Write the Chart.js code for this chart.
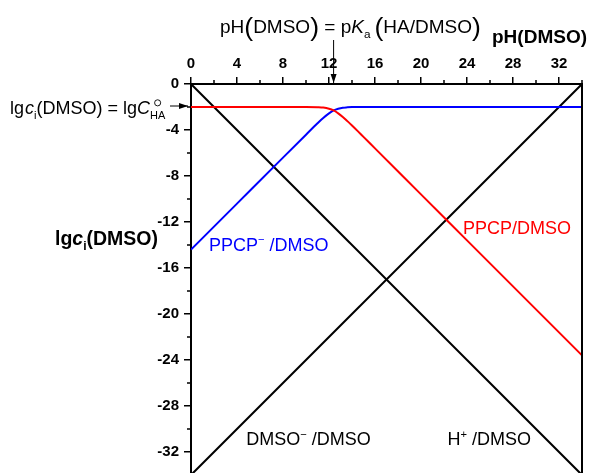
<!DOCTYPE html>
<html>
<head>
<meta charset="utf-8">
<script src="https://cdn.jsdelivr.net/npm/chart.js@4.4.0/dist/chart.umd.min.js"></script>
<style>
html, body { margin: 0; padding: 0; overflow: hidden; background: #fff; }
#wrap { width: 594px; height: 480px; }
</style>
</head>
<body>
<div id="wrap"><canvas id="myChart"></canvas></div>
<script>
// values
const pKa = 12.4;
const phCurve = [0, 4, 8, 10, 11, 11.5, 12, 12.4, 12.8, 13.2, 13.6, 14, 14.5, 15, 16, 20, 24, 28, 34];
const ppcpHA  = [-2, -2, -2, -2, -2.02, -2.05, -2.15, -2.3, -2.55, -2.86, -3.23, -3.61, -4.1, -4.6, -5.6, -9.6, -13.6, -17.6, -23.6];
const ppcpA   = [-14.4, -10.4, -6.4, -4.41, -3.42, -2.95, -2.55, -2.3, -2.15, -2.06, -2.03, -2.01, -2, -2, -2, -2, -2, -2, -2];
const phLine    = [0, 34];
const hPlus     = [0, -34];
const dmsoMinus = [-34, 0];

const xTicks = [0, 4, 8, 12, 16, 20, 24, 28, 32];
const xMinor = [2, 6, 10, 14, 18, 22, 26, 30, 34];
const yTicks = [0, -4, -8, -12, -16, -20, -24, -28, -32];
const yMinor = [-2, -6, -10, -14, -18, -22, -26, -30, -34];

const FONT = '"Liberation Sans", Arial, sans-serif';

function pts(xs, ys) {
    return xs.map((x, i) => ({ x: x, y: ys[i] }));
}

// draw a line of text made of pieces (italic, sub, sup, stacked)
function rich(ctx, x, y, parts, size, color, bold) {
    ctx.save();
    ctx.fillStyle = color;
    ctx.strokeStyle = color;
    ctx.textBaseline = 'alphabetic';
    ctx.textAlign = 'left';
    const w = bold ? 'bold ' : '';
    parts.forEach(p => {
        if (p.stack) {
            // standard-state circle over the subscript
            ctx.font = w + Math.round(size * 0.62) + 'px ' + FONT;
            const w2 = ctx.measureText(p.stack).width;
            ctx.fillText(p.stack, x, y + size * 0.3);
            ctx.lineWidth = 0.9;
            ctx.beginPath();
            ctx.arc(x + w2 / 2, y - size * 0.62, size * 0.17, 0, Math.PI * 2);
            ctx.stroke();
            x += w2;
            return;
        }
        let s = size * (p.scale || 1), dy = p.dy || 0;
        if (p.sub) { s = size * 0.62; dy = size * 0.28; }
        if (p.sup) { s = size * 0.62; dy = -size * 0.42; }
        ctx.font = (p.italic ? 'italic ' : '') + w + s + 'px ' + FONT;
        ctx.fillText(p.t, x, y + dy);
        x += ctx.measureText(p.t).width + (p.gap || 0);
    });
    ctx.restore();
}

function arrow(ctx, x1, y1, x2, y2) {
    const a = Math.atan2(y2 - y1, x2 - x1);
    ctx.save();
    ctx.strokeStyle = '#000';
    ctx.fillStyle = '#000';
    ctx.lineWidth = 1;
    ctx.beginPath();
    ctx.moveTo(x1, y1);
    ctx.lineTo(x2, y2);
    ctx.stroke();
    ctx.beginPath();
    ctx.moveTo(x2, y2);
    ctx.lineTo(x2 - 9 * Math.cos(a) + 3 * Math.sin(a), y2 - 9 * Math.sin(a) - 3 * Math.cos(a));
    ctx.lineTo(x2 - 9 * Math.cos(a) - 3 * Math.sin(a), y2 - 9 * Math.sin(a) + 3 * Math.cos(a));
    ctx.closePath();
    ctx.fill();
    ctx.restore();
}

const extras = {
    id: 'extras',
    afterDraw(chart) {
        const ctx = chart.ctx;
        const xs = chart.scales.x, ys = chart.scales.y;
        const area = chart.chartArea;

        // minor ticks + right frame
        ctx.save();
        ctx.strokeStyle = '#000';
        ctx.lineWidth = 1.5;
        ctx.beginPath();
        xMinor.forEach(v => {
            const px = xs.getPixelForValue(v);
            ctx.moveTo(px, area.top);
            ctx.lineTo(px, area.top - 4);
        });
        yMinor.forEach(v => {
            const py = ys.getPixelForValue(v);
            ctx.moveTo(area.left, py);
            ctx.lineTo(area.left - 4, py);
        });
        ctx.stroke();
        ctx.lineWidth = 2;
        ctx.beginPath();
        ctx.moveTo(area.right, area.top - 1);
        ctx.lineTo(area.right, area.bottom);
        ctx.stroke();
        ctx.restore();

        // series labels
        const S = 18;
        rich(ctx, xs.getPixelForValue(23.65), ys.getPixelForValue(-12.5) + 6,
            [{ t: 'PPCP/DMSO' }], S, '#ff0000');
        rich(ctx, xs.getPixelForValue(1.57), ys.getPixelForValue(-14.0) + 6,
            [{ t: 'PPCP' }, { t: '\u2212', sup: true }, { t: ' /DMSO' }], S, '#0000ff');
        rich(ctx, xs.getPixelForValue(4.8), ys.getPixelForValue(-30.9) + 6,
            [{ t: 'DMSO' }, { t: '\u2212', sup: true }, { t: ' /DMSO' }], S, '#000');
        rich(ctx, xs.getPixelForValue(22.3), ys.getPixelForValue(-30.9) + 6,
            [{ t: 'H' }, { t: '+', sup: true }, { t: ' /DMSO' }], S, '#000');

        // axis titles
        rich(ctx, 492, 43, [{ t: 'pH(DMSO)' }], 19, '#000', true);
        rich(ctx, 55, 245, [{ t: 'lg' }, { t: 'c', italic: true }, { t: 'i', sub: true }, { t: '(DMSO)' }], 19.5, '#000', true);

        // top note with arrow to pKa
        rich(ctx, 220, 33, [
            { t: 'pH' }, { t: '(', scale: 1.4, dy: 3 }, { t: 'DMSO' }, { t: ')', scale: 1.4, dy: 3 },
            { t: ' = p' }, { t: 'K', italic: true }, { t: 'a', sub: true, gap: 4 },
            { t: '(', scale: 1.4, dy: 3 }, { t: 'HA/DMSO' }, { t: ')', scale: 1.4, dy: 3 }
        ], 19, '#000');
        const xp = xs.getPixelForValue(pKa);
        arrow(ctx, xp, 40, xp, area.top - 1);

        // left note with arrow to the start level
        const y2 = ys.getPixelForValue(-2);
        rich(ctx, 10, y2 + 7, [
            { t: 'lg', gap: 1 }, { t: 'c', italic: true }, { t: 'i', sub: true }, { t: '(DMSO) = lg' },
            { t: 'C', italic: true }, { stack: 'HA' }
        ], 18, '#000');
        arrow(ctx, 170, y2 - 1, area.left - 3, y2 - 1);
    }
};

const ctx = document.getElementById('myChart');
const mychart = new Chart(ctx, {
    type: 'line',
    data: {
        datasets: [
            {
                label: 'PPCP/DMSO',
                data: pts(phCurve, ppcpHA),
                borderColor: '#ff0000',
                borderWidth: 2,
                cubicInterpolationMode: 'monotone'
            },
            {
                label: 'PPCP-/DMSO',
                data: pts(phCurve, ppcpA),
                borderColor: '#0000ff',
                borderWidth: 2,
                cubicInterpolationMode: 'monotone'
            },
            {
                label: 'H+/DMSO',
                data: pts(phLine, hPlus),
                borderColor: '#000',
                borderWidth: 2
            },
            {
                label: 'DMSO-/DMSO',
                data: pts(phLine, dmsoMinus),
                borderColor: '#000',
                borderWidth: 2
            }
        ]
    },
    options: {
        responsive: true,
        maintainAspectRatio: false,
        animation: false,
        layout: { padding: { left: 0, top: 0, right: 12, bottom: 5 } },
        elements: { point: { radius: 0 } },
        plugins: { legend: { display: false }, tooltip: { enabled: false } },
        scales: {
            x: {
                type: 'linear',
                position: 'top',
                min: 0,
                max: 34,
                afterFit: s => { s.height = 84; s.paddingLeft = 0; s.paddingRight = 0; },
                afterBuildTicks: s => { s.ticks = xTicks.map(v => ({ value: v })); },
                grid: { drawOnChartArea: false, tickLength: 7, color: '#000', lineWidth: 1.5 },
                border: { color: '#000', width: 2 },
                ticks: {
                    color: '#000',
                    padding: 4,
                    maxRotation: 0,
                    font: { family: FONT, size: 15, weight: 'bold' }
                }
            },
            y: {
                type: 'linear',
                min: -34,
                max: 0,
                afterFit: s => { s.width = 191; s.paddingTop = 0; s.paddingBottom = 0; },
                afterBuildTicks: s => { s.ticks = yTicks.map(v => ({ value: v })); },
                grid: { drawOnChartArea: false, tickLength: 7, color: '#000', lineWidth: 1.5 },
                border: { color: '#000', width: 2 },
                ticks: {
                    color: '#000',
                    padding: 5,
                    font: { family: FONT, size: 15, weight: 'bold' }
                }
            }
        }
    },
    plugins: [extras]
});
</script>
</body>
</html>
